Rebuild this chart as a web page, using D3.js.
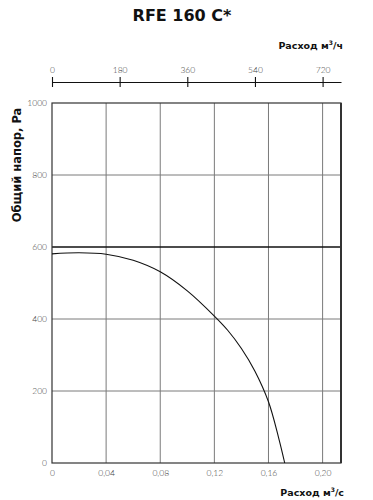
<!DOCTYPE html>
<html>
<head>
<meta charset="utf-8">
<script src="https://cdn.jsdelivr.net/npm/d3@7"></script>
<style>
  body { margin: 0; background: #fff; }
  svg { display: block; }
</style>
</head>
<body>
<div id="chart"></div>
<script>
// Fan curve RFE 160 C*: pressure vs. air flow
const flowTicks = [0, 0.04, 0.08, 0.12, 0.16, 0.20];
const flowHourTicks = [0, 180, 360, 540, 720];
const pressureTicks = [0, 200, 400, 600, 800, 1000];

const curveFlow = [0, 0.02, 0.04, 0.06, 0.08, 0.10, 0.12, 0.13, 0.14, 0.15, 0.16, 0.1675, 0.172];
const curvePressure = [581, 584, 580, 563, 531, 478, 408, 368, 318, 255, 170, 70, 0];

const width = 373, height = 500;
const margin = { top: 103, right: 32, bottom: 37, left: 52 };

const svg = d3.select("#chart").append("svg")
  .attr("width", width)
  .attr("height", height);

// Scales
const x = d3.scaleLinear()
  .domain([0, 0.2136])
  .range([margin.left, width - margin.right]);

// top axis in m3/h uses the same pixels (1 m3/s = 3600 m3/h)
const xHour = d3.scaleLinear()
  .domain([0, 0.2136 * 3600])
  .range([margin.left, width - margin.right]);

const y = d3.scaleLinear()
  .domain([0, 1000])
  .range([height - margin.bottom, margin.top]);

const tickFont = "Lato, 'DejaVu Sans', sans-serif";
const boldFont = "'DejaVu Sans', sans-serif";

// Title
svg.append("text")
  .attr("x", 182)
  .attr("y", 21)
  .attr("text-anchor", "middle")
  .style("font-family", boldFont)
  .style("font-weight", "bold")
  .style("font-size", "16px")
  .style("fill", "#111")
  .text("RFE 160 C*");

// Grid lines
svg.append("g")
  .selectAll("line")
  .data(flowTicks.slice(1))
  .enter().append("line")
  .attr("x1", d => x(d)).attr("x2", d => x(d))
  .attr("y1", y(0)).attr("y2", y(1000))
  .attr("stroke", "#7a7a7a")
  .attr("stroke-width", 1);

svg.append("g")
  .selectAll("line")
  .data(pressureTicks.filter(d => d > 0 && d < 1000))
  .enter().append("line")
  .attr("x1", x(0)).attr("x2", x.range()[1])
  .attr("y1", d => y(d)).attr("y2", d => y(d))
  .attr("stroke", d => d === 600 ? "#111" : "#7a7a7a")
  .attr("stroke-width", d => d === 600 ? 1.3 : 1);

// Frame
svg.append("rect")
  .attr("x", x(0))
  .attr("y", y(1000))
  .attr("width", x.range()[1] - x(0))
  .attr("height", y(0) - y(1000))
  .attr("fill", "none")
  .attr("stroke", "#333")
  .attr("stroke-width", 1.2);

svg.append("line")
  .attr("x1", x.range()[1]).attr("x2", x.range()[1])
  .attr("y1", y(1000)).attr("y2", y(0))
  .attr("stroke", "#333")
  .attr("stroke-width", 2);

// Curve
const line = d3.line()
  .x(d => x(d[0]))
  .y(d => y(d[1]))
  .curve(d3.curveCatmullRom.alpha(0.5));

svg.append("path")
  .datum(curveFlow.map((q, i) => [q, curvePressure[i]]))
  .attr("d", line)
  .attr("fill", "none")
  .attr("stroke", "#111")
  .attr("stroke-width", 1.1);

// Axis tick labels
const tickStyle = sel => sel
  .style("font-family", tickFont)
  .style("font-weight", 300)
  .style("font-size", "8.5px")
  .style("fill", "#444");

svg.append("g")
  .attr("transform", `translate(0,${y(0)})`)
  .call(d3.axisBottom(x).tickValues(flowTicks).tickSize(0).tickPadding(7)
    .tickFormat(d => d === 0 ? "0" : d3.format(".2f")(d).replace(".", ",")))
  .call(g => g.select(".domain").remove())
  .selectAll("text").call(tickStyle);

svg.append("g")
  .attr("transform", `translate(${x(0)},0)`)
  .call(d3.axisLeft(y).tickValues(pressureTicks).tickSize(0).tickPadding(5)
    .tickFormat(d3.format("d")))
  .call(g => g.select(".domain").remove())
  .selectAll("text").call(tickStyle);

// Top axis in m3/h
const topAxis = svg.append("g")
  .attr("transform", "translate(0,82)")
  .call(d3.axisTop(xHour).tickValues(flowHourTicks).tickSize(0).tickPadding(9)
    .tickFormat(d3.format("d")));
topAxis.select(".domain")
  .attr("stroke", "#111")
  .attr("stroke-width", 1.2);
topAxis.selectAll(".tick line")
  .attr("y1", -5).attr("y2", 5)
  .attr("stroke", "#111")
  .attr("stroke-width", 1.1);
topAxis.selectAll("text").call(tickStyle);

// Axis titles
const boldTitle = sel => sel
  .style("font-family", boldFont)
  .style("font-weight", "bold")
  .style("font-size", "9.5px")
  .style("fill", "#111");

svg.append("text")
  .attr("x", 343).attr("y", 49)
  .attr("text-anchor", "end")
  .call(boldTitle)
  .html("Расход м<tspan dy='-4' font-size='6px'>3</tspan><tspan dy='4'>/ч</tspan>");

svg.append("text")
  .attr("x", 344).attr("y", 496)
  .attr("text-anchor", "end")
  .call(boldTitle)
  .html("Расход м<tspan dy='-4' font-size='6px'>3</tspan><tspan dy='4'>/с</tspan>");

svg.append("text")
  .attr("transform", "translate(21,165) rotate(-90)")
  .attr("text-anchor", "middle")
  .call(boldTitle)
  .style("font-size", "11.5px")
  .text("Общий напор, Pa");
</script>
</body>
</html>
